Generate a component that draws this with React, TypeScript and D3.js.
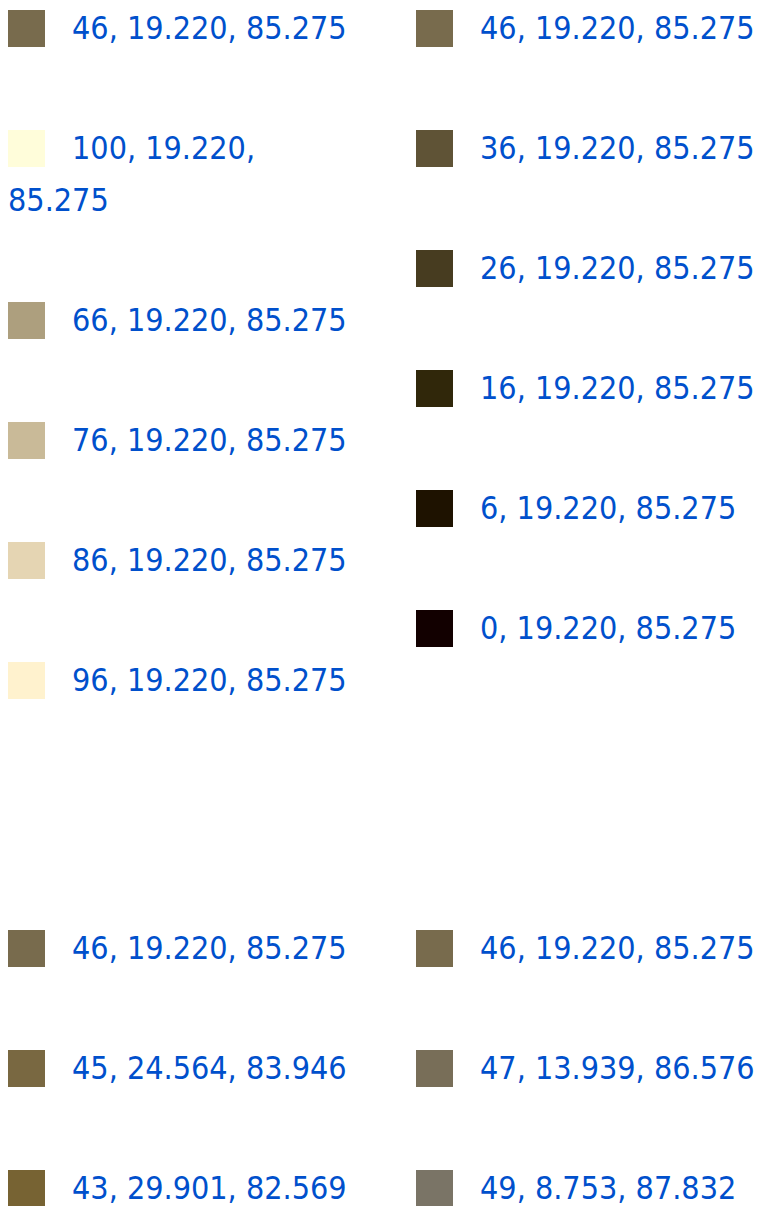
import React, { useEffect, useRef } from "react";
import * as d3 from "d3";

// Lightness values for the first block (chroma 19.220, hue 85.275)
const baseChroma = 19.22;
const baseHue = 85.275;
const lighterL = [46, 100, 66, 76, 86, 96];
const darkerL = [46, 36, 26, 16, 6, 0];

// Second block: [L, C, H]
const warmerL = [46, 45, 43];
const warmerC = [19.22, 24.564, 29.901];
const warmerH = [85.275, 83.946, 82.569];
const coolerL = [46, 47, 49];
const coolerC = [19.22, 13.939, 8.753];
const coolerH = [85.275, 86.576, 87.832];

type Item = { l: number; c: number; h: number };

const col = (ls: number[], cs: number[], hs: number[]): Item[] =>
  ls.map((l, i) => ({ l, c: cs[i], h: hs[i] }));

const blocks: { top: number; columns: Item[][] }[] = [
  {
    top: 10,
    columns: [
      lighterL.map((l) => ({ l, c: baseChroma, h: baseHue })),
      darkerL.map((l) => ({ l, c: baseChroma, h: baseHue })),
    ],
  },
  {
    top: 930,
    columns: [col(warmerL, warmerC, warmerH), col(coolerL, coolerC, coolerH)],
  },
];

const colX = [8, 416];
const SW = 37;
const TEXT_DX = 64;
const ROW = 120;
const LINE = 52;
const MAXW = 284;

export default function App() {
  const ref = useRef<SVGSVGElement>(null);
  useEffect(() => {
    const svg = d3.select(ref.current);
    svg.selectAll("*").remove();
    blocks.forEach((b) => {
      b.columns.forEach((items, ci) => {
        let y = b.top;
        const x = colX[ci];
        items.forEach((it) => {
          const color = d3.lch(it.l, it.c, it.h).formatHex();
          svg
            .append("rect")
            .attr("x", x)
            .attr("y", y)
            .attr("width", SW)
            .attr("height", SW)
            .attr("fill", color);
          const label = `${it.l}, ${it.c.toFixed(3)}, ${it.h.toFixed(3)}`;
          const text = svg
            .append("text")
            .attr("font-family", "'DejaVu Sans Condensed', 'DejaVu Sans', sans-serif")
            .attr("font-size", 32)
            .attr("fill", "#0050cc");
          const probe = text.append("tspan").text(label);
          const full = (probe.node() as SVGTSpanElement).getComputedTextLength();
          probe.remove();
          let lines: string[] = [label];
          if (full > MAXW) {
            const words = label.split(" ");
            lines = [];
            let cur = "";
            const t2 = text.append("tspan");
            words.forEach((w) => {
              const test = cur ? cur + " " + w : w;
              t2.text(test);
              const wdt = (t2.node() as SVGTSpanElement).getComputedTextLength();
              if (wdt > MAXW && cur) {
                lines.push(cur);
                cur = w;
              } else cur = test;
            });
            lines.push(cur);
            t2.remove();
          }
          lines.forEach((ln, li) => {
            text
              .append("tspan")
              .attr("x", li === 0 ? x + TEXT_DX : x)
              .attr("y", y + 29 + li * LINE)
              .text(ln);
          });
          y += ROW + LINE * (lines.length - 1);
        });
      });
    });
  }, []);
  return (
    <svg
      ref={ref}
      width={757}
      height={1206}
      style={{ position: "absolute", left: 0, top: 0, display: "block" }}
    />
  );
}
